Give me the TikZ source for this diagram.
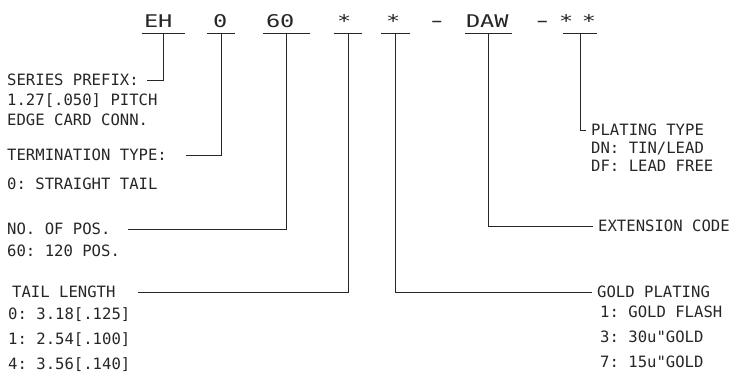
\documentclass[tikz,border=0pt]{standalone}
\usepackage{fontspec}
\setmonofont{DejaVu Sans Mono}
\usetikzlibrary{positioning}

\begin{document}
\begin{tikzpicture}[
    x=1pt, y=-1pt,
    every node/.style={font=\ttfamily\fontsize{15.6}{19}\selectfont, inner sep=0pt, text depth=0pt, text=black!85},
    txt/.style={anchor=west, text height=11.4pt},
    code/.style={anchor=south, font=\ttfamily\fontsize{17.5}{21}\selectfont, text height=12.8pt, inner ysep=5pt},
    lead/.style={line width=1pt, black!85},
    leadr/.style={lead, shorten >=5pt}
]
\useasboundingbox (0,0) rectangle (742,381);
% Part number fields
\foreach \id/\x/\w/\dx/\lbl in {eh/163.5/43/2/EH, term/221/28/6/0, pos/286.5/47/3/60, tail/348/28/3/*, gold/395.5/29/5/*, ext/488.5/47/1/DAW, plat/580/34/-4/{*\hspace{6.5pt}*}} {
    \node[code, text width=\w pt] (\id) at (\x,33) {\hspace*{\dx pt}\scalebox{1.35}[1]{\lbl}};
    \draw[lead] (\id.south west) -- (\id.south east);
}
\node[code] (dasha) at (437,33) {−};
\node[code] (dashb) at (542.5,33) {−};

% Left legend
\node[txt] (prefix) at (7,80) {SERIES PREFIX:};
\node[txt] (pitch) at (7,100) {1.27[.050] PITCH};
\node[txt] (edge) at (7,120) {EDGE CARD CONN.};
\node[txt] (termlbl) at (7,155) {TERMINATION TYPE:};
\node[txt] (straight) at (7,184) {0: STRAIGHT TAIL};
\node[txt] (poslbl) at (7,229) {NO. OF POS.};
\node[txt] (pos120) at (7,251) {60: 120 POS.};
\node[txt] (taillbl) at (12,292) {TAIL LENGTH};
\foreach \id/\y/\lbl in {tla/314/{0: 3.18[.125]}, tlb/339/{1: 2.54[.100]}, tlc/364/{4: 3.56[.140]}}
    \node[txt] (\id) at (8,\y) {\lbl};

% Right legend
\node[txt] (platlbl) at (591,130) {PLATING TYPE};
\node[txt] (dn) at (591,148) {DN: TIN/LEAD};
\node[txt] (df) at (591,166) {DF: LEAD FREE};
\node[txt] (extlbl) at (598,226) {EXTENSION CODE};
\node[txt] (goldlbl) at (597,292) {GOLD PLATING};
\foreach \id/\y/\lbl in {gda/312/{1: GOLD FLASH}, gdb/337/{3: 30u"GOLD}, gdc/362/{7: 15u"GOLD}}
    \node[txt] (\id) at (600,\y) {\lbl};

% Leaders
\draw[lead, shorten >=8pt] (eh.south) |- (prefix.east);
\draw[lead, shorten >=19pt] (term.south) |- (termlbl.east);
\draw[lead, shorten >=17pt] (pos.south) |- (poslbl.east);
\draw[lead, shorten >=22pt] (tail.south) |- (taillbl.east);
\draw[leadr] (gold.south) |- (goldlbl.west);
\draw[leadr] (ext.south) |- (extlbl.west);
\draw[leadr] (plat.south) |- (platlbl.west);
\end{tikzpicture}
\end{document}
